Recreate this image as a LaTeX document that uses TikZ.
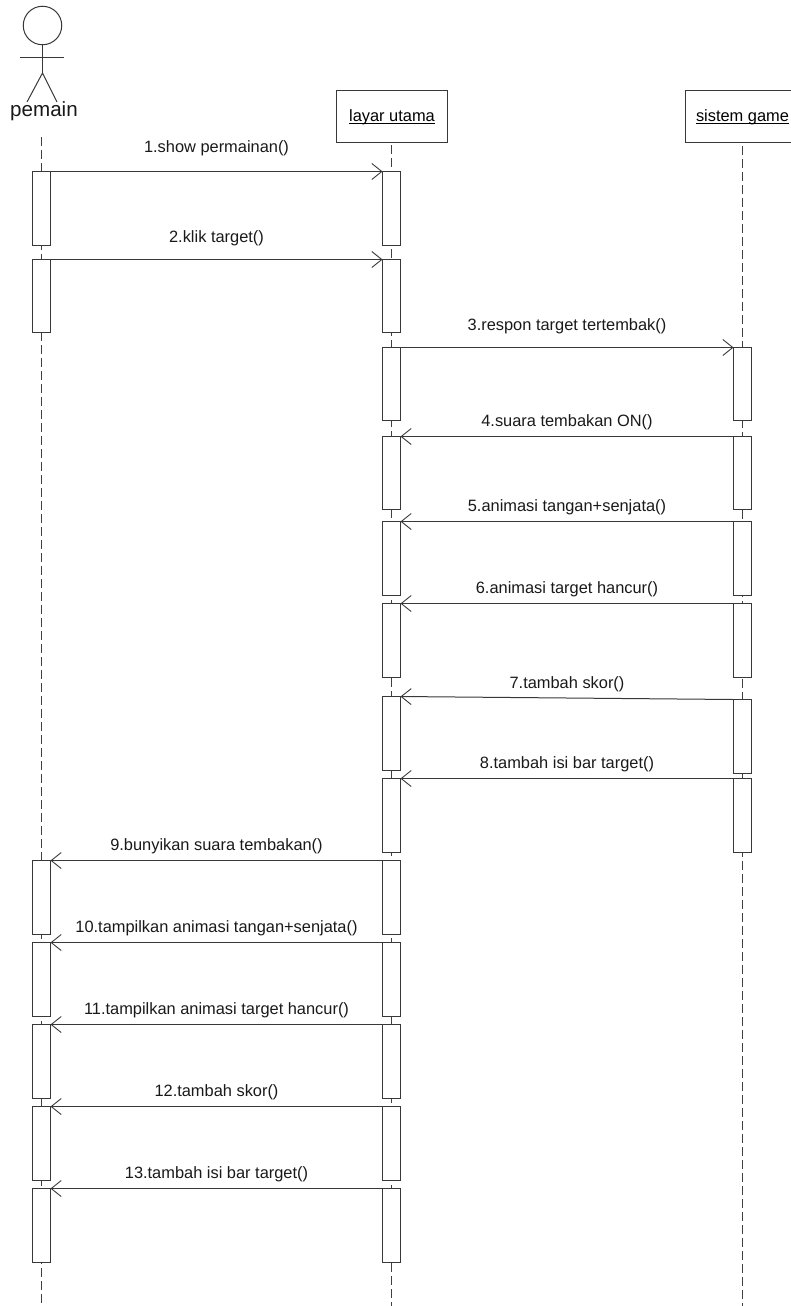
\documentclass[tikz,border=0pt]{standalone}
\usepackage{fontspec}
\setmainfont{Liberation Sans}
\usetikzlibrary{arrows.meta}
\newcommand{\headtext}[1]{\raisebox{-5.5pt}{\underline{\smash{#1}}}}
\tikzset{
  every picture/.style={line width=1pt},
  ink/.style={draw=black!78},
  bar/.style={ink,fill=white,rectangle,inner sep=0pt,outer sep=0pt,minimum width=18pt},
  lifebox/.style={ink,fill=white,rectangle,inner sep=0pt,outer sep=0pt,minimum height=52pt,text height=0pt,text depth=0pt,font=\fontsize{16.4}{18}\selectfont},
  life/.style={draw=black!75,dash pattern=on 9pt off 4pt},
  msg/.style={ink,-{Straight Barb[length=10pt,width=16pt,line width=0.9pt]}},
  lbl/.style={midway,above=#1pt,inner sep=0pt,font=\fontsize{16.4}{18}\selectfont,text=black!90},
  lbl/.default=6
}
\begin{document}
\begin{tikzpicture}[x=1pt,y=-1pt]
\useasboundingbox (0,0) rectangle (791,1306);
% actor
\node[circle,ink,minimum size=38.5pt,inner sep=0pt,outer sep=0pt] (head) at (42.5,25.5) {};
\coordinate (hip) at (42.5,73);
\coordinate (armL) at (20,57.5);
\coordinate (armR) at (64,57.5);
\coordinate (legL) at (27,102);
\coordinate (legR) at (57,102);
\draw[ink] (head.south) -- (hip);
\draw[ink] (armL) -- (armR);
\draw[ink] (legL) -- (hip) -- (legR);
\node[inner sep=0pt,font=\fontsize{20.6}{22}\selectfont,text=black!90] (pemain) at (44,111.5) {pemain};
% heads
\node[lifebox,minimum width=111pt] (layar) at (392,116.5) {\headtext{layar utama}};
\node[lifebox,minimum width=114pt,anchor=west] (sistem) at (685.5,116.5) {\headtext{sistem game}};
% lifelines
\coordinate (pTop) at (41.5,137);
\coordinate (pEnd) at (41.5,1306);
\coordinate (mTop) at (391.5,145);
\coordinate (mEnd) at (391.5,1306);
\coordinate (sTop) at (742.5,146);
\coordinate (sEnd) at (742.5,1306);
\draw[life] (pTop) -- (pEnd);
\draw[life] (mTop) -- (mEnd);
\draw[life] (sTop) -- (sEnd);
% left bars
\node[bar,minimum height=74pt] (p1) at (41.5,208.5) {};
\node[bar,minimum height=73pt] (p2) at (41.5,296) {};
\node[bar,minimum height=74pt] (p9) at (41.5,897.5) {};
\node[bar,minimum height=74pt] (p10) at (41.5,979.5) {};
\node[bar,minimum height=74pt] (p11) at (41.5,1061.5) {};
\node[bar,minimum height=74pt] (p12) at (41.5,1143.5) {};
\node[bar,minimum height=74pt] (p13) at (41.5,1225.5) {};
% middle bars
\node[bar,minimum height=74pt] (m1) at (391.5,208.5) {};
\node[bar,minimum height=73pt] (m2) at (391.5,296) {};
\node[bar,minimum height=73pt] (m3) at (391.5,384) {};
\node[bar,minimum height=73pt] (m4) at (391.5,473) {};
\node[bar,minimum height=74pt] (m5) at (391.5,558.5) {};
\node[bar,minimum height=74pt] (m6) at (391.5,640.5) {};
\node[bar,minimum height=74pt] (m7) at (391.5,733.5) {};
\node[bar,minimum height=74pt] (m8) at (391.5,815.5) {};
\node[bar,minimum height=74pt] (m9) at (391.5,897.5) {};
\node[bar,minimum height=74pt] (m10) at (391.5,979.5) {};
\node[bar,minimum height=74pt] (m11) at (391.5,1061.5) {};
\node[bar,minimum height=74pt] (m12) at (391.5,1143.5) {};
\node[bar,minimum height=74pt] (m13) at (391.5,1225.5) {};
% right bars
\node[bar,minimum height=73pt] (s3) at (742.5,384) {};
\node[bar,minimum height=73pt] (s4) at (742.5,473) {};
\node[bar,minimum height=74pt] (s5) at (742.5,558.5) {};
\node[bar,minimum height=74pt] (s6) at (742.5,640.5) {};
\node[bar,minimum height=74pt] (s7) at (742.5,736.5) {};
\node[bar,minimum height=74pt] (s8) at (742.5,815.5) {};
% messages
\draw[msg] (p1.north east) -- node[lbl=15] {1.show permainan()} (m1.north west);
\draw[msg] (p2.north east) -- node[lbl=13] {2.klik target()} (m2.north west);
\draw[msg] (m3.north east) -- node[lbl=13] {3.respon target tertembak()} (s3.north west);
\draw[msg] (s4.north west) -- node[lbl=6.5] {4.suara tembakan ON()} (m4.north east);
\draw[msg] (s5.north west) -- node[lbl=6.5] {5.animasi tangan+senjata()} (m5.north east);
\draw[msg] (s6.north west) -- node[lbl=6.5] {6.animasi target hancur()} (m6.north east);
\draw[msg] (s7.north west) -- node[lbl] {7.tambah skor()} (m7.north east);
\draw[msg] (s8.north west) -- node[lbl] {8.tambah isi bar target()} (m8.north east);
\draw[msg] (m9.north west) -- node[lbl] {9.bunyikan suara tembakan()} (p9.north east);
\draw[msg] (m10.north west) -- node[lbl] {10.tampilkan animasi tangan+senjata()} (p10.north east);
\draw[msg] (m11.north west) -- node[lbl] {11.tampilkan animasi target hancur()} (p11.north east);
\draw[msg] (m12.north west) -- node[lbl] {12.tambah skor()} (p12.north east);
\draw[msg] (m13.north west) -- node[lbl] {13.tambah isi bar target()} (p13.north east);
\end{tikzpicture}
\end{document}
